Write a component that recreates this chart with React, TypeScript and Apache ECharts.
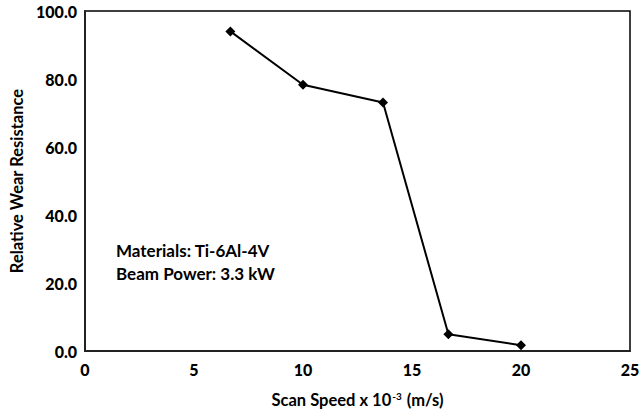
import React, { useEffect, useRef } from "react";
import * as echarts from "echarts";

const xValues = [6.67, 10, 13.67, 16.67, 20];
const yValues = [94.0, 78.3, 73.1, 4.9, 1.7];
const yTicks = { min: 0, max: 100, interval: 20 };
const xTicks = { min: 0, max: 25, interval: 5 };
const noteLines = ["Materials: Ti-6Al-4V", "Beam Power: 3.3 kW"];

const FONT = "Lato";

export default function App() {
  const ref = useRef<HTMLDivElement>(null);
  useEffect(() => {
    if (!ref.current) return;
    const chart = echarts.init(ref.current, undefined, { renderer: "svg" });
    chart.setOption({
      animation: false,
      backgroundColor: "#ffffff",
      grid: {
        left: 83,
        top: 11,
        right: 13,
        bottom: 61,
        show: true,
        borderColor: "#000",
        borderWidth: 1.5,
      },
      xAxis: {
        type: "value",
        min: xTicks.min,
        max: xTicks.max,
        interval: xTicks.interval,
        axisLine: { show: true, lineStyle: { color: "#222", width: 2 } },
        axisTick: { show: false },
        splitLine: { show: false },
        axisLabel: { color: "#000", fontFamily: FONT, fontWeight: 900, fontSize: 16, margin: 10 },
        name: "{n|Scan Speed x 10}{s|-3}{n| (m/s)}",
        nameLocation: "middle",
        nameGap: 40,
        nameTextStyle: {
          rich: {
            n: { fontFamily: FONT, fontWeight: "bold", fontSize: 16.5, color: "#000" },
            s: { fontFamily: FONT, fontWeight: "bold", fontSize: 10, color: "#000", verticalAlign: "top", padding: [0, 1, 7, 1] },
          },
        },
      },
      yAxis: {
        type: "value",
        min: yTicks.min,
        max: yTicks.max,
        interval: yTicks.interval,
        axisLine: { show: true, lineStyle: { color: "#222", width: 2 } },
        axisTick: { show: false },
        splitLine: { show: false },
        axisLabel: {
          color: "#000",
          fontFamily: FONT,
          fontWeight: 900,
          fontSize: 16,
          margin: 8,
          formatter: (v: number) => v.toFixed(1),
        },
        name: "Relative Wear Resistance",
        nameLocation: "middle",
        nameGap: 60,
        nameTextStyle: { fontFamily: FONT, fontWeight: "bold", fontSize: 16.5, color: "#000" },
      },
      graphic: noteLines.map((t, i) => ({
        type: "text",
        x: 116,
        y: 250 + i * 23,
        style: {
          text: t,
          fontFamily: FONT,
          fontWeight: "bold",
          fontSize: 17,
          fill: "#000",
          verticalAlign: "middle",
        },
      })),
      series: [
        {
          type: "line",
          data: xValues.map((x, i) => [x, yValues[i]]),
          symbol: "diamond",
          symbolSize: 10,
          lineStyle: { color: "#000", width: 2 },
          itemStyle: { color: "#000" },
        },
      ],
    });
    return () => chart.dispose();
  }, []);
  return <div ref={ref} style={{ width: 643, height: 413, position: "absolute", left: 0, top: 0 }} />;
}
